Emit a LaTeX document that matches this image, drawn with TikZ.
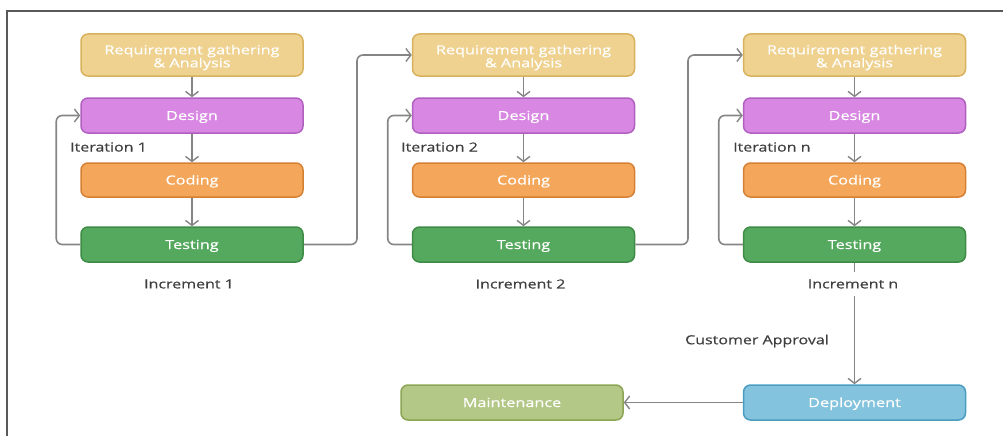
\documentclass[tikz,border=0pt]{standalone}
\usepackage{fontspec}
\setmainfont{Open Sans}
\newfontfamily\boxfont[FakeStretch=1.3,FakeBold=0.4]{Open Sans}
\newfontfamily\lblfont[FakeStretch=1.28,FakeBold=0.6]{Open Sans}
\usetikzlibrary{arrows.meta}
\definecolor{reqF}{HTML}{EFD290}
\definecolor{reqD}{HTML}{D8B15C}
\definecolor{desF}{HTML}{D888E2}
\definecolor{desD}{HTML}{B060BE}
\definecolor{codF}{HTML}{F4A75B}
\definecolor{codD}{HTML}{D68034}
\definecolor{tesF}{HTML}{55A95E}
\definecolor{tesD}{HTML}{3D8B45}
\definecolor{maiF}{HTML}{B3C787}
\definecolor{maiD}{HTML}{8BA552}
\definecolor{depF}{HTML}{84C3DD}
\definecolor{depD}{HTML}{4A9CC1}
\definecolor{lnC}{HTML}{858585}
\definecolor{txC}{HTML}{3F3F3F}
\tikzset{
  box/.style={draw, rounded corners=7pt, line width=1.5pt, minimum width=222pt,
    text=white, font=\boxfont\fontsize{12.5}{14}\selectfont, align=center, inner sep=0pt,
    text height=9pt, text depth=0pt},
  conn/.style={draw=lnC, line width=1.6pt, rounded corners=6pt,
    -{Straight Barb[length=5pt,width=13pt,line width=1.4pt]}},
  lbl/.style={text=txC, font=\lblfont\fontsize{12.5}{14}\selectfont, inner sep=0pt}
}
\begin{document}
\begin{tikzpicture}[x=1pt,y=-1pt]
\useasboundingbox (0,0) rectangle (1003,436);
\draw[draw=black!65, line width=1.6pt] (7,436) -- (7,11) -- (1003,11);
% columns
\foreach \c/\x/\k in {1/192/1,2/523.5/2,3/854.5/n}{
  \node[box, fill=reqF, draw=reqD, minimum height=42pt, text height=, text depth=] (req\c) at (\x,55) {\raisebox{-3pt}[\height][\depth]{\begin{tabular}{@{}c@{}}Requirement gathering\\[-1pt]\& Analysis\end{tabular}}};
  \node[box, fill=desF, draw=desD, minimum height=35pt] (des\c) at (\x,115.5) {Design};
  \node[box, fill=codF, draw=codD, minimum height=34pt] (cod\c) at (\x,180) {Coding};
  \node[box, fill=tesF, draw=tesD, minimum height=35pt] (tes\c) at (\x,244.5) {Testing};
  \draw[conn] (req\c) -- (des\c);
  \draw[conn] (des\c) -- (cod\c);
  \draw[conn] (cod\c) -- (tes\c);
  \draw[conn] (tes\c.west) -- ++(-24,0) |- (des\c.west);
}
\node[lbl, anchor=west] (it1) at (70,147) {Iteration 1};
\node[lbl, anchor=west] (it2) at (401,147) {Iteration 2};
\node[lbl, anchor=west] (it3) at (733,147) {Iteration n};
\node[lbl] (inc1) at (189,284) {Increment 1};
\node[lbl] (inc2) at (520.5,284) {Increment 2};
\draw[conn] (tes1.east) -- (357,244.5) |- (req2.west);
\draw[conn] (tes2.east) -- (688,244.5) |- (req3.west);
\node[box, fill=depF, draw=depD, minimum height=35pt] (dep) at (854.5,402.5) {Deployment};
\node[box, fill=maiF, draw=maiD, minimum height=35pt] (mai) at (512,402.5) {Maintenance};
\draw[conn] (tes3.south) -- (dep.north);
\node[lbl, fill=white, inner ysep=7pt, inner xsep=2pt] (inc3) at (853,284) {Increment n};
\node[lbl] (cust) at (757,341) {Customer Approval};
\draw[conn] (dep.west) -- (mai.east);
\end{tikzpicture}
\end{document}
